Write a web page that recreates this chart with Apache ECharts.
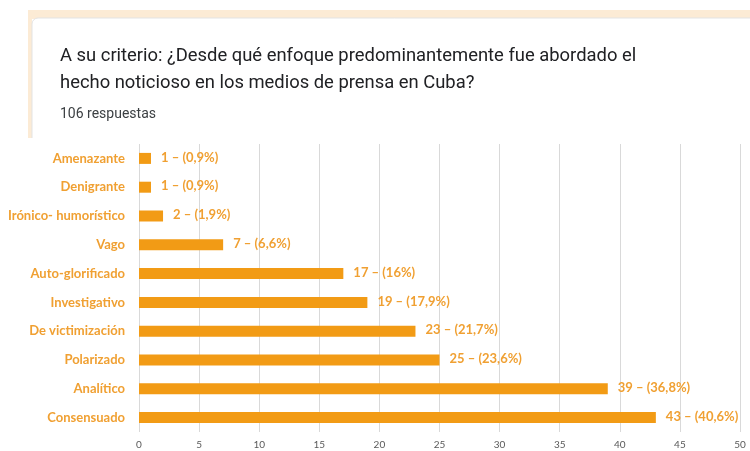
<!DOCTYPE html>
<html>
<head>
<meta charset="utf-8">
<script src="https://cdn.jsdelivr.net/npm/echarts@6/dist/echarts.min.js"></script>
<style>
html,body{margin:0;padding:0;background:#fff;}
#main{width:750px;height:451px;}
</style>
</head>
<body>
<div id="main"></div>
<script>
var categorias = ['Amenazante','Denigrante','Irónico- humorístico','Vago','Auto-glorificado','Investigativo','De victimización','Polarizado','Analítico','Consensuado'];
var valores = [1,1,2,7,17,19,23,25,39,43];
var porcentajes = ['0,9%','0,9%','1,9%','6,6%','16%','17,9%','21,7%','23,6%','36,8%','40,6%'];
var ticks = [0,5,10,15,20,25,30,35,40,45,50];

var naranja = '#F29B15';
var myChart = echarts.init(document.getElementById('main'));

var option = {
    backgroundColor: '#ffffff',
    animation: false,
    graphic: [
        // tarjeta del formulario (sin borde inferior)
        {type:'rect', z:-10, shape:{x:28,y:10,width:722,height:9}, style:{fill:'#FCEBD5'}},
        {type:'rect', z:-10, shape:{x:28,y:10,width:4,height:128}, style:{fill:'#FCEBD5'}},
        {type:'rect', z:-9, shape:{x:32,y:18,width:730,height:140,r:6}, style:{fill:'#fff',stroke:'#e3e3e3',lineWidth:1}},
        {type:'rect', z:-8, shape:{x:20,y:138,width:730,height:30}, style:{fill:'#fff'}},
        {type:'text', left:60, top:43, style:{text:'A su criterio: ¿Desde qué enfoque predominantemente fue abordado el\nhecho noticioso en los medios de prensa en Cuba?', fill:'#202124', font:'18.4px Roboto', lineHeight:27}},
        {type:'text', left:60, top:107, style:{text:'106 respuestas', fill:'#3c4043', font:'14px Roboto'}}
    ],
    grid: {left:139, right:10, top:144, bottom:19, containLabel:false},
    xAxis: {
        type:'value', min:0, max:50, interval:5,
        axisLine:{show:false}, axisTick:{show:false},
        splitLine:{lineStyle:{color:'#d9d9d9'}},
        axisLabel:{color:'#595959', fontSize:10, margin:8, fontFamily:'Lato'}
    },
    yAxis: {
        type:'category', data:categorias, inverse:true,
        axisLine:{show:false}, axisTick:{show:false},
        axisLabel:{color:'#F0A032', fontSize:13, fontWeight:'bold', margin:14, fontFamily:'Lato'}
    },
    series: [{
        type:'bar',
        data:valores,
        barWidth:11,
        itemStyle:{color:naranja},
        label:{
            show:true, position:'right', distance:10, offset:[0,-1],
            color:'#F0A032', fontSize:13, fontWeight:'bold', fontFamily:'Lato',
            formatter:function(p){ return p.value + ' – (' + porcentajes[p.dataIndex] + ')'; }
        }
    }]
};
myChart.setOption(option);
</script>
</body>
</html>
